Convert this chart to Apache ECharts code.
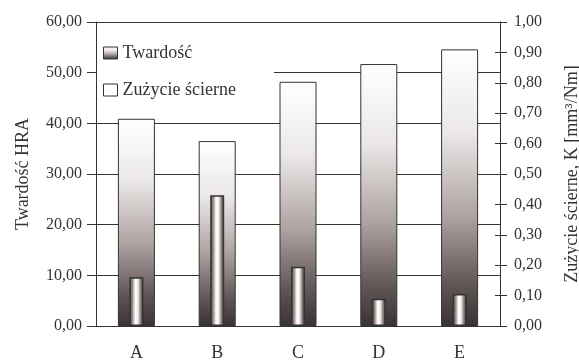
<!DOCTYPE html>
<html>
<head>
<meta charset="utf-8">
<script src="https://cdn.jsdelivr.net/npm/echarts@6/dist/echarts.min.js"></script>
<style>
  html, body { margin: 0; padding: 0; background: #fff; }
  #chart { width: 579px; height: 362px; }
</style>
</head>
<body>
<div id="chart"></div>
<script>
// Samples
const categories = ['A', 'B', 'C', 'D', 'E'];
// Hardness, HRA (left axis)
const hardness = [40.9, 36.5, 48.2, 51.7, 54.6];
// Abrasive wear K, mm3/Nm (right axis)
const wear = [0.16, 0.43, 0.195, 0.09, 0.105];

const FONT = 'Liberation Serif';
const INK = '#333333';
const fmt = v => '{s|' + v.toFixed(2).replace('.', ',') + '}';
const serifRich = size => ({ s: { fontFamily: FONT, fontSize: size, color: INK } });

// Tall bars: white at the top fading to dark warm grey at the base
const hardFill = new echarts.graphic.LinearGradient(0, 0, 0, 1, [
  { offset: 0, color: '#ffffff' },
  { offset: 0.3, color: '#ebe8e7' },
  { offset: 0.6, color: '#aea4a2' },
  { offset: 0.85, color: '#615656' },
  { offset: 1, color: '#3a3233' }
]);
// Narrow bars: shaded like a cylinder, dark edges and bright centre
const wearFill = new echarts.graphic.LinearGradient(0, 0, 1, 0, [
  { offset: 0, color: '#4a4040' },
  { offset: 0.22, color: '#9a8c8b' },
  { offset: 0.42, color: '#ffffff' },
  { offset: 0.6, color: '#f2f0ef' },
  { offset: 0.8, color: '#8d807f' },
  { offset: 1, color: '#4a4040' }
]);

const chart = echarts.init(document.getElementById('chart'), null, { renderer: 'canvas' });
chart.setOption({
  animation: false,
  backgroundColor: '#ffffff',
  textStyle: { fontFamily: FONT, color: INK },
  grid: { left: 96, right: 79, top: 22, bottom: 36, outerBoundsMode: 'none' },
  legend: {
    orient: 'vertical',
    left: 97,
    top: 37,
    padding: [5, 38, 5, 6],
    backgroundColor: '#ffffff',
    itemWidth: 14,
    itemHeight: 12,
    itemGap: 15,
    icon: 'rect',
    itemStyle: { borderColor: INK, borderWidth: 1 },
    formatter: name => '{s|' + name + '}',
    textStyle: { fontFamily: FONT, fontSize: 18, color: INK, lineHeight: 22, rich: serifRich(18) },
    data: [
      { name: 'Twardość' },
      { name: 'Zużycie ścierne', itemStyle: { color: '#ffffff', borderColor: INK, borderWidth: 1 } }
    ]
  },
  xAxis: [
    {
      type: 'category',
      data: categories,
      axisLine: { lineStyle: { color: INK, width: 1 } },
      axisTick: { length: 6, lineStyle: { color: INK } },
      axisLabel: { fontFamily: FONT, fontSize: 18, color: INK, margin: 18 }
    },
    {
      type: 'category',
      data: categories,
      show: false
    }
  ],
  yAxis: [
    {
      type: 'value',
      position: 'left',
      min: 0, max: 60, interval: 10,
      name: 'Twardość HRA',
      nameLocation: 'middle',
      nameRotate: 90,
      nameGap: 64,
      nameTextStyle: { fontFamily: FONT, fontSize: 18, color: INK },
      axisLine: { show: true, lineStyle: { color: INK, width: 1 } },
      axisTick: { show: true, length: 9, lineStyle: { color: INK } },
      axisLabel: { fontFamily: FONT, fontSize: 16, color: INK, margin: 14, formatter: fmt, rich: serifRich(16) },
      splitLine: { show: true, lineStyle: { color: INK, width: 1 } }
    },
    {
      type: 'value',
      position: 'right',
      min: 0, max: 1, interval: 0.1,
      name: 'Zużycie ścierne, K [mm³/Nm]',
      nameLocation: 'middle',
      nameRotate: 90,
      nameGap: 63,
      nameTextStyle: { fontFamily: FONT, fontSize: 18, color: INK },
      axisLine: { show: true, lineStyle: { color: INK, width: 1 } },
      axisTick: { show: true, length: 7, lineStyle: { color: INK } },
      axisLabel: { fontFamily: FONT, fontSize: 16, color: INK, margin: 14, formatter: fmt, rich: serifRich(16) },
      splitLine: { show: false }
    },
    {
      // inner half of the crossing ticks on the right axis
      type: 'value',
      position: 'right',
      min: 0, max: 1, interval: 0.1,
      axisLine: { show: true, lineStyle: { color: INK, width: 1 } },
      axisTick: { show: true, inside: true, length: 5, lineStyle: { color: INK } },
      axisLabel: { show: false },
      splitLine: { show: false }
    }
  ],
  series: [
    {
      name: 'Twardość',
      type: 'bar',
      xAxisIndex: 0,
      yAxisIndex: 0,
      barWidth: 37,
      data: hardness,
      itemStyle: { color: hardFill, borderColor: INK, borderWidth: 1 },
      z: 2
    },
    {
      name: 'Zużycie ścierne',
      type: 'bar',
      xAxisIndex: 1,
      yAxisIndex: 1,
      barWidth: 14,
      data: wear,
      itemStyle: { color: wearFill, borderColor: INK, borderWidth: 1.5 },
      z: 3
    }
  ]
});
</script>
</body>
</html>
